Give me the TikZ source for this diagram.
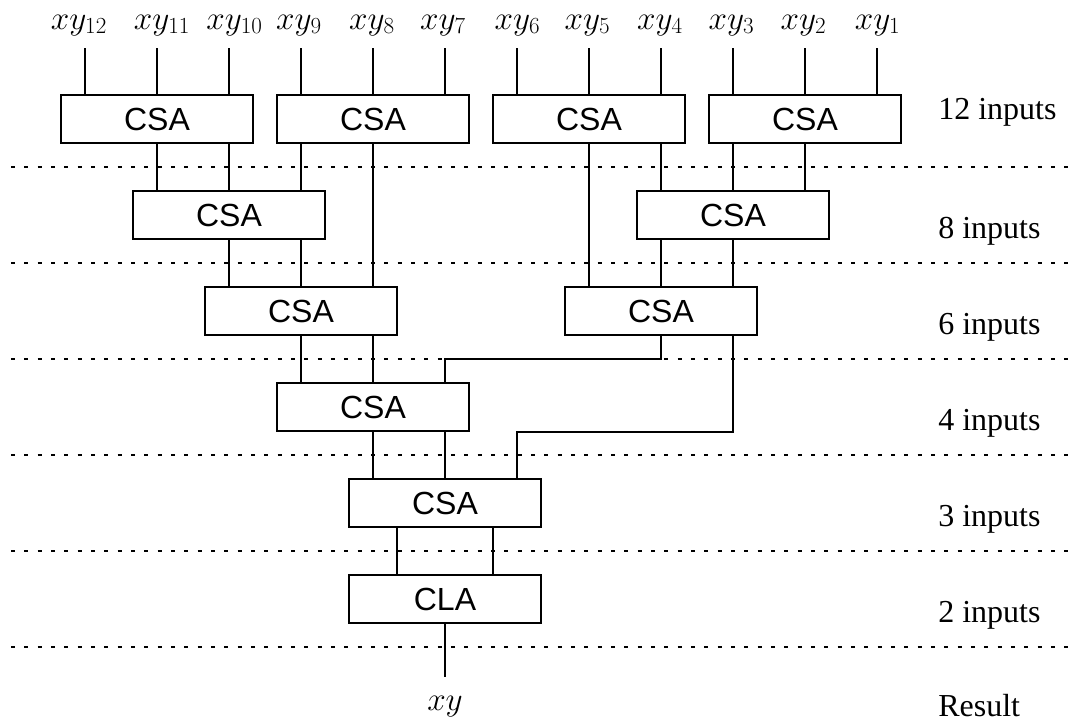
\documentclass[tikz,border=0pt]{standalone}
\usepackage[no-math]{fontspec}
\setmainfont{Liberation Serif}
\setsansfont{Liberation Sans}
\begin{document}
\begin{tikzpicture}[x=0.75pt,y=-0.75pt,
  blk/.style={draw,line width=1.8pt,minimum width=144pt,minimum height=36pt,inner sep=0pt,
    font=\sffamily\fontsize{24}{28}\selectfont},
  wire/.style={line width=1.8pt},
  sepline/.style={line width=1.8pt,dash pattern=on 3pt off 7pt},
  lvl/.style={anchor=base west,inner sep=0pt,font=\fontsize{24}{28}\selectfont},
  inlab/.style={anchor=base,inner sep=0pt,font=\fontsize{24}{28}\selectfont}]
\useasboundingbox (0,0) rectangle (1070,725);
% column coordinates
\foreach \i in {1,...,12} {\coordinate (L\i) at ({85+72*(\i-1)},0);}
\coordinate (Q1) at (397,0);
\coordinate (Q2) at (493,0);
\coordinate (T) at (0,48);
% separators
\foreach \k/\yy in {1/167,2/263,3/359,4/455,5/551,6/647} {
  \coordinate (s\k) at (11,\yy);
  \coordinate (t\k) at (1070,\yy);
  \draw[sepline] (s\k) -- (t\k);
}
% boxes
\node[blk] (a1) at (157,119) {CSA};
\node[blk] (a2) at (373,119) {CSA};
\node[blk] (a3) at (589,119) {CSA};
\node[blk] (a4) at (805,119) {CSA};
\node[blk] (b1) at (229,215) {CSA};
\node[blk] (b2) at (733,215) {CSA};
\node[blk] (c1) at (301,311) {CSA};
\node[blk] (c2) at (661,311) {CSA};
\node[blk] (d1) at (373,407) {CSA};
\node[blk] (e1) at (445,503) {CSA};
\node[blk] (f1) at (445,599) {CLA};
% input labels
\foreach \n/\xx/\lab in {x1/79/{12},x2/162/{11},x3/234.5/{10},x4/299/9,x5/372/8,x6/443/7,
  x7/517.5/6,x8/587.5/5,x9/660/4,x10/731.5/3,x11/803.5/2,x12/877.7/1} {
  \node[inlab] (\n) at (\xx,29) {$xy_{\lab}$};
}
% input wires
\foreach \i in {1,...,12} {\draw[wire] (L\i |- T) -- (L\i |- a1.north);}
% connections
\draw[wire] (L2 |- a1.south) -- (L2 |- b1.north);
\draw[wire] (L3 |- a1.south) -- (L3 |- b1.north);
\draw[wire] (L4 |- a2.south) -- (L4 |- b1.north);
\draw[wire] (L5 |- a2.south) -- (L5 |- c1.north);
\draw[wire] (L8 |- a3.south) -- (L8 |- c2.north);
\draw[wire] (L9 |- a3.south) -- (L9 |- b2.north);
\draw[wire] (L10 |- a4.south) -- (L10 |- b2.north);
\draw[wire] (L11 |- a4.south) -- (L11 |- b2.north);
\draw[wire] (L3 |- b1.south) -- (L3 |- c1.north);
\draw[wire] (L4 |- b1.south) -- (L4 |- c1.north);
\draw[wire] (L9 |- b2.south) -- (L9 |- c2.north);
\draw[wire] (L10 |- b2.south) -- (L10 |- c2.north);
\draw[wire] (L4 |- c1.south) -- (L4 |- d1.north);
\draw[wire] (L5 |- c1.south) -- (L5 |- d1.north);
\draw[wire] (L9 |- c2.south) |- (L6 |- s3) -- (L6 |- d1.north);
\draw[wire] (L10 |- c2.south) |- (L7 |- d1.south) -- (L7 |- e1.north);
\draw[wire] (L5 |- d1.south) -- (L5 |- e1.north);
\draw[wire] (L6 |- d1.south) -- (L6 |- e1.north);
\draw[wire] (Q1 |- e1.south) -- (Q1 |- f1.north);
\draw[wire] (Q2 |- e1.south) -- (Q2 |- f1.north);
\coordinate (out) at (445,677);
\draw[wire] (f1.south) -- (out);
\node[inlab] (res) at (445,710) {$xy$};
% level labels
\node[lvl] (l12) at (938,119) {12 inputs};
\node[lvl] (l8) at (938,238) {8 inputs};
\node[lvl] (l6) at (938,334) {6 inputs};
\node[lvl] (l4) at (938,430) {4 inputs};
\node[lvl] (l3) at (938,526) {3 inputs};
\node[lvl] (l2) at (938,622) {2 inputs};
\node[lvl] (lr) at (938,716) {Result};
\end{tikzpicture}
\end{document}
